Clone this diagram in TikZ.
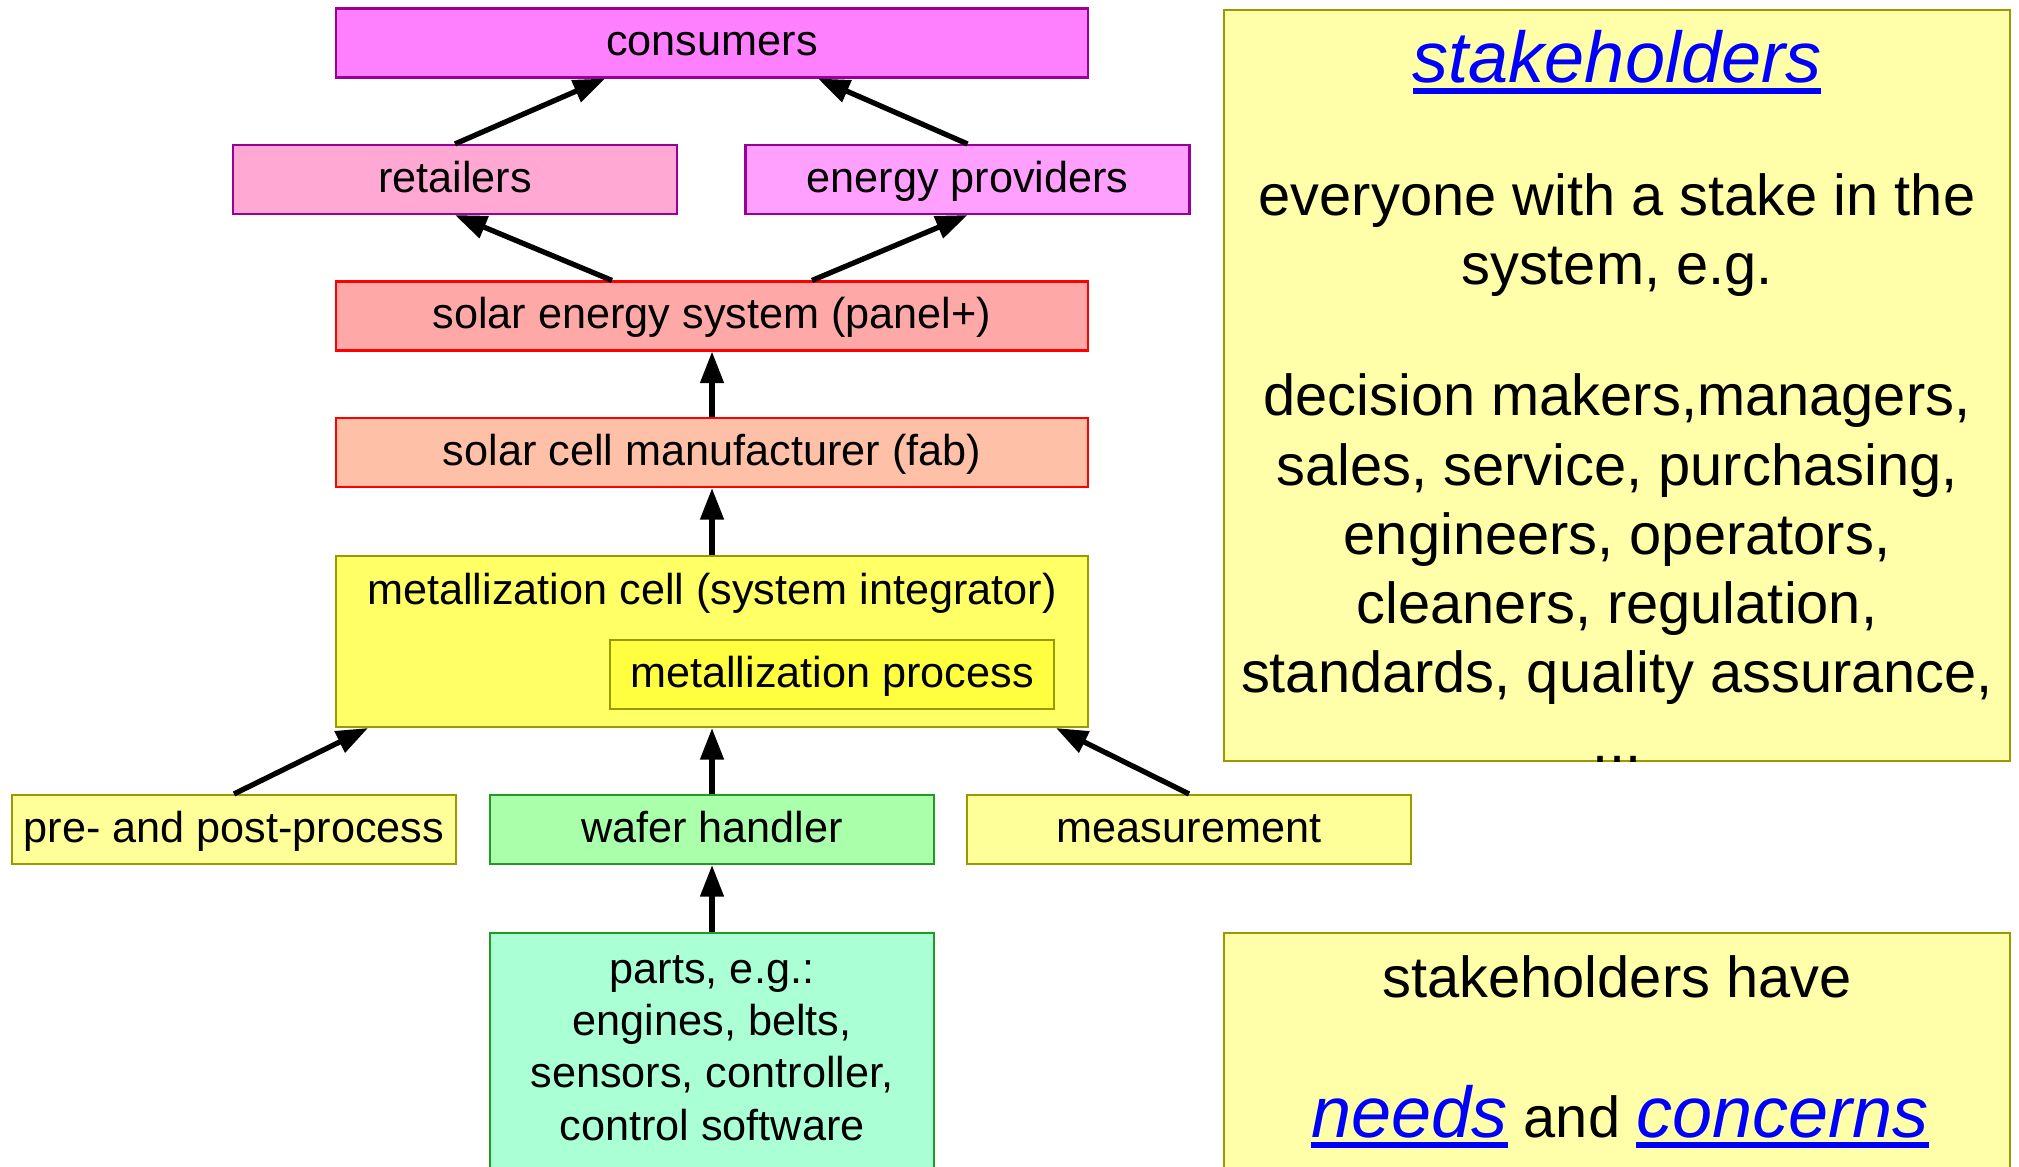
\documentclass[tikz,border=0pt]{standalone}
\usepackage{fontspec}
\setmainfont{Liberation Sans}
\usetikzlibrary{arrows.meta}

\definecolor{consumer}{HTML}{FF80FF}
\definecolor{retail}{HTML}{FFA8D4}
\definecolor{provider}{HTML}{FFA0FF}
\definecolor{edgepurple}{HTML}{990099}
\definecolor{solar}{HTML}{FFA8A8}
\definecolor{fab}{HTML}{FFC0A8}
\definecolor{cell}{HTML}{FFFF66}
\definecolor{process}{HTML}{FFFF40}
\definecolor{supplier}{HTML}{FFFF99}
\definecolor{edgeolive}{HTML}{999900}
\definecolor{wafer}{HTML}{AAFFAA}
\definecolor{parts}{HTML}{AAFFD5}
\definecolor{edgegreen}{HTML}{229922}
\definecolor{note}{HTML}{FFFFAA}
\definecolor{linkblue}{HTML}{0000FF}

% enlace subrayado
\newcommand{\keyword}[1]{{\fontsize{20.5pt}{24pt}\selectfont\itshape\color{linkblue}%
\setbox0\hbox{#1}\rlap{\rule[-3pt]{\wd0}{1.6pt}}\box0}}

\begin{document}
\begin{tikzpicture}[thick,
  every node/.style={font=\fontsize{12.3pt}{14.8pt}\selectfont},
  box/.style={rectangle, draw, line width=0.6pt, inner sep=0pt, minimum width=4.44cm, minimum height=0.69cm, text height=9.8pt, text depth=2.5pt},
  wide/.style={box, minimum width=7.52cm},
  notebox/.style={rectangle, draw=edgeolive, line width=0.6pt, fill=note, inner sep=0pt, minimum width=7.86cm},
  rfont/.style={font=\fontsize{16.45pt}{19.7pt}\selectfont},
  arr/.style={-{Triangle[length=9pt,width=6.5pt]}, line width=1.5pt}]

\useasboundingbox (0,0) rectangle (20.19,-11.67);
\clip (0,0) rectangle (20.19,-11.67);

%% CADENA DE VALOR
% Clientes
\node[wide, draw=edgepurple, fill=consumer] at (7.12,-0.43) (Consumers) {consumers};
\node[box, draw=edgepurple, fill=retail] at (4.55,-1.795) (Retail) {retailers};
\node[box, draw=edgepurple, fill=provider] at (9.675,-1.795) (Energy) {energy providers};

% Sistema solar
\node[wide, draw=red, fill=solar] at (7.12,-3.16) (Solar) {solar energy system (panel+)};
\node[wide, draw=red, fill=fab] at (7.12,-4.525) (Fab) {solar cell manufacturer (fab)};

% Celda de metalizacion
\node[wide, draw=edgeolive, fill=cell, minimum height=1.71cm] at (7.12,-6.415) (Cell) {};
\node[anchor=base] at (7.12,-6.04) (CellText) {metallization cell (system integrator)};
\node[box, draw=edgeolive, fill=process] at (8.32,-6.745) (Process) {metallization process};

% Proveedores
\node[box, draw=edgeolive, fill=supplier] at (2.34,-8.295) (PrePost) {pre- and post-process};
\node[box, draw=edgegreen, fill=wafer] at (7.12,-8.295) (Wafer) {wafer handler};
\node[box, draw=edgeolive, fill=supplier] at (11.89,-8.295) (Measure) {measurement};

% Partes
\node[box, draw=edgegreen, fill=parts, minimum height=3cm, anchor=north] at (7.12,-9.32) (Parts) {};
\node[anchor=base, align=center] at (7.12,-11.40) (PartsText)
{parts, e.g.:\\engines, belts,\\sensors, controller,\\control software};

% Flechas
\draw[arr] (Retail.north) -- ([xshift=-1.07cm]Consumers.south);
\draw[arr] (Energy.north) -- ([xshift=1.06cm]Consumers.south);
\draw[arr] ([xshift=-1cm]Solar.north) -- (Retail.south);
\draw[arr] ([xshift=1cm]Solar.north) -- (Energy.south);
\draw[arr] (Fab.north) -- (Solar.south);
\draw[arr] (Cell.north) -- (Fab.south);
\draw[arr] (PrePost.north) -- ([xshift=-3.44cm]Cell.south);
\draw[arr] (Wafer.north) -- (Cell.south);
\draw[arr] (Measure.north) -- ([xshift=3.44cm]Cell.south);
\draw[arr] (Parts.north) -- (Wafer.south);

%% STAKEHOLDERS
\node[notebox, minimum height=7.51cm] at (16.17,-3.855) (Stake) {};
\node[anchor=base] at (16.17,-0.83) (StakeTitle) {\keyword{stakeholders}};
\node[rfont, anchor=base, align=center] at (16.17,-2.85) (StakeWho)
{everyone with a stake in the\\system, e.g.};
\node[rfont, anchor=base, align=center] at (16.17,-7.62) (StakeList)
{decision makers,managers,\\sales, service, purchasing,\\engineers, operators,\\cleaners, regulation,\\standards, quality assurance,\\...};

% Necesidades
\node[notebox, minimum height=3cm, anchor=north] at (16.17,-9.32) (Needs) {};
\node[rfont, anchor=base] at (16.17,-9.97) (HaveText) {stakeholders have};
\node[rfont, anchor=base] at (16.2,-11.37) (NeedsText) {\keyword{needs} and \keyword{concerns}};

\end{tikzpicture}
\end{document}
